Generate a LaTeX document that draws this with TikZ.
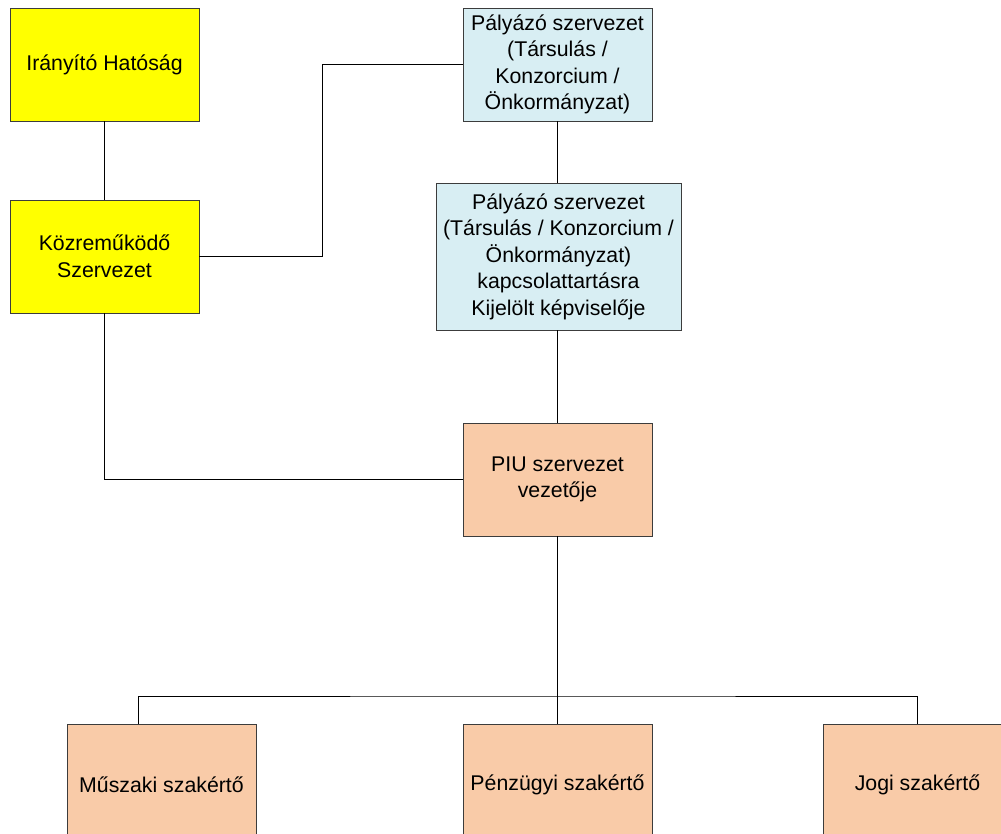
\documentclass[tikz,border=0pt]{standalone}
\usepackage{fontspec}
\setmainfont{Liberation Sans}
\usetikzlibrary{calc}
\definecolor{boxyellow}{HTML}{FFFF00}
\definecolor{boxblue}{HTML}{D8EEF3}
\definecolor{boxpeach}{HTML}{F9CBA8}
\definecolor{boxborder}{HTML}{3C3C3C}
\tikzset{
  orgbox/.style={draw=boxborder, line width=0.9pt, align=center, inner sep=2pt,
    font=\fontsize{21.3}{26.5}\selectfont, text=black},
  smallbox/.style={orgbox, minimum width=189pt, minimum height=113pt},
  link/.style={draw=black, line width=0.9pt}
}
\begin{document}
\begin{tikzpicture}[x=1pt,y=-1pt]
\useasboundingbox (0,0) rectangle (1001,834);
\clip (0,0) rectangle (1001,834);
\node[smallbox, fill=boxyellow] (ih) at (104.5,64.5) {Irányító Hatóság};
\node[smallbox, fill=boxyellow] (ksz) at (104.5,256.5) {Közreműködő\\Szervezet};
\node[smallbox, fill=boxblue] (p1) at (557.5,64.5) {Pályázó szervezet\\(Társulás /\\Konzorcium /\\Önkormányzat)};
\node[orgbox, fill=boxblue, minimum width=245pt, minimum height=147pt] (p2) at (558.5,256.5) {Pályázó szervezet\\(Társulás / Konzorcium /\\Önkormányzat)\\kapcsolattartásra\\Kijelölt képviselője};
\node[smallbox, fill=boxpeach] (piu) at (557.5,479.5) {PIU szervezet\\vezetője};
\node[smallbox, fill=boxpeach, anchor=north] (msz) at (161.5,724) {\rule{0pt}{24pt}Műszaki szakértő};
\node[smallbox, fill=boxpeach, anchor=north] (psz) at (557.5,724) {\rule{0pt}{24pt}Pénzügyi szakértő};
\node[smallbox, fill=boxpeach, anchor=north] (jsz) at (917.5,724) {\rule{0pt}{24pt}Jogi szakértő};

\coordinate (kbend) at (322,256.5);
\coordinate (bus) at (557.5,696);
\coordinate (mtop) at (138,724);

\draw[link] (ih.south) -- (ksz.north);
\draw[link] (ksz.east) -- (kbend) |- (p1.west);
\draw[link] (p1.south) -- (p2.north -| p1.south);
\draw[link] (p2.south -| piu.north) -- (piu.north);
\draw[link] (ksz.south) |- (piu.west);
\draw[link] (piu.south) -- (psz.north);
\draw[link] (mtop) |- (bus) -| (jsz.north);
\end{tikzpicture}
\end{document}
